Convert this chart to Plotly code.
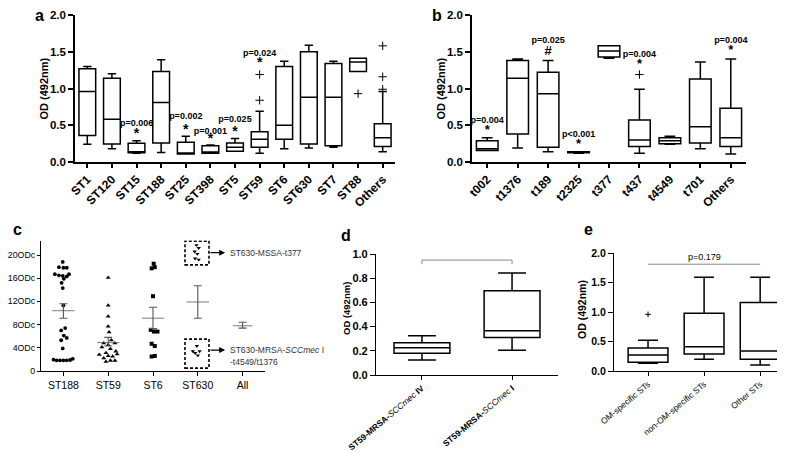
import plotly.graph_objects as go

FONT = "Liberation Sans"
W, H = 785, 451

# ---------------- Panel a : OD by ST ----------------
a_cats = ["ST1", "ST120", "ST15", "ST188", "ST25", "ST398", "ST5", "ST59", "ST6", "ST630", "ST7", "ST88", "Others"]
a_lo = [0.24, 0.18, 0.12, 0.13, 0.11, 0.12, 0.145, 0.12, 0.18, 0.19, 0.20, 1.23, 0.14]
a_q1 = [0.36, 0.245, 0.125, 0.26, 0.11, 0.12, 0.145, 0.20, 0.31, 0.245, 0.22, 1.23, 0.21]
a_med = [0.96, 0.58, 0.13, 0.81, 0.115, 0.135, 0.20, 0.31, 0.50, 0.88, 0.88, 1.36, 0.33]
a_q3 = [1.27, 1.14, 0.255, 1.23, 0.27, 0.22, 0.26, 0.41, 1.30, 1.50, 1.34, 1.41, 0.52]
a_hi = [1.30, 1.20, 0.29, 1.39, 0.35, 0.23, 0.32, 0.69, 1.37, 1.59, 1.37, 1.41, 0.96]
a_out_cats = ["ST59", "ST59", "ST88", "Others", "Others", "Others"]
a_out_y = [0.84, 1.19, 0.93, 1.58, 1.16, 0.99]
a_sig_cats = ["ST15", "ST25", "ST398", "ST5", "ST59"]
a_p_text = ["p=0.006", "p=0.002", "p=0.001", "p=0.025", "p=0.024"]
a_p_y = [0.52, 0.61, 0.41, 0.57, 1.47]
a_star_y = [0.38, 0.43, 0.30, 0.40, 1.34]

# ---------------- Panel b : OD by spa type ----------------
b_cats = ["t002", "t1376", "t189", "t2325", "t377", "t437", "t4549", "t701", "Others"]
b_lo = [0.155, 0.19, 0.14, 0.12, 1.41, 0.12, 0.24, 0.18, 0.11]
b_q1 = [0.155, 0.38, 0.20, 0.125, 1.43, 0.21, 0.25, 0.26, 0.21]
b_med = [0.18, 1.14, 0.93, 0.13, 1.51, 0.30, 0.29, 0.48, 0.33]
b_q3 = [0.29, 1.38, 1.22, 0.14, 1.58, 0.57, 0.33, 1.13, 0.73]
b_hi = [0.33, 1.40, 1.38, 0.14, 1.58, 0.99, 0.35, 1.36, 1.40]
b_out_cats = ["t437"]
b_out_y = [1.19]
b_sig_cats = ["t002", "t189", "t2325", "t437", "Others"]
b_p_text = ["p=0.004", "p=0.025", "p&lt;0.001", "p=0.004", "p=0.004"]
b_p_y = [0.56, 1.65, 0.37, 1.46, 1.65]
b_mark = ["*", "#", "*", "*", "*"]
b_mark_y = [0.42, 1.50, 0.24, 1.32, 1.51]

# ---------------- Panel c : dot plot ----------------
c_cats = ["ST188", "ST59", "ST6", "ST630", "All"]
c_ticks = [0, 4, 8, 12, 16, 20]
c_ticktext = ["0", "4ODc", "8ODc", "12ODc", "16ODc", "20ODc"]
c_mean = [10.4, 4.9, 9.1, 11.9, 7.8]
c_sem_hi = [11.6, 5.8, 11.0, 14.7, 8.4]
c_sem_lo = [9.1, 4.3, 7.3, 9.1, 7.4]
st188_y = [18.8, 17.9, 17.8, 17.8, 16.7, 16.5, 16.4, 16.3, 16.7, 15.9, 15.2, 14.3, 11.3,
           7.4, 7.0, 6.1, 5.7, 5.3, 3.9, 1.95, 1.84, 1.84, 1.84, 1.84, 1.9, 2.1]
st188_dx = [-0.015, -0.10, 0.0, 0.075, -0.19, -0.10, -0.015, 0.075, 0.125, 0.01, -0.04, -0.015, 0.0,
            0.04, -0.05, 0.01, 0.075, -0.05, -0.015, -0.22, -0.15, -0.075, 0.0, 0.075, 0.15, 0.21]
st59_y = [16.1, 11.3, 9.4, 7.7, 6.7, 5.3, 4.8, 4.5, 4.8, 4.1, 3.8, 3.4, 3.1, 2.8, 2.6, 2.5, 2.2, 1.8, 1.6, 1.8, 2.9]
st59_dx = [0.0, 0.0, 0.0, 0.0, 0.02, 0.07, -0.10, 0.0, 0.15, -0.14, 0.05, 0.17, -0.05, -0.20, 0.0, 0.10, -0.10, 0.05, -0.05, 0.15, 0.20]
st6_y = [18.5, 17.7, 17.9, 12.9, 7.1, 6.8, 6.8, 4.7, 4.3, 2.5, 2.6]
st6_dx = [0.015, -0.03, 0.04, 0.0, -0.05, 0.02, 0.10, -0.03, 0.04, -0.03, 0.04]
st630_y = [21.7, 21.2, 20.6, 20.2, 19.4, 19.2, 4.3, 3.4, 3.1, 3.4, 2.7]
st630_dx = [-0.03, 0.02, -0.07, -0.01, -0.06, 0.02, -0.02, -0.11, -0.06, 0.04, 0.0]

# ---------------- Panel d : ST59 SCCmec ----------------
d_cats = ["<b>ST59-MRSA-</b><i>SCCmec</i><b> IV</b>", "<b>ST59-MRSA-</b><i>SCCmec</i><b> I</b>"]
d_lo = [0.124, 0.204]
d_q1 = [0.18, 0.309]
d_med = [0.226, 0.366]
d_q3 = [0.267, 0.697]
d_hi = [0.325, 0.843]
d_p_text = "p=0.005"

# ---------------- Panel e : OM-specific ----------------
e_cats = ["OM-specific STs", "non-OM-specific STs", "Other STs"]
e_lo = [0.13, 0.20, 0.10]
e_q1 = [0.15, 0.29, 0.20]
e_med = [0.27, 0.41, 0.34]
e_q3 = [0.39, 0.98, 1.16]
e_hi = [0.52, 1.59, 1.59]
e_out_cats = ["OM-specific STs"]
e_out_y = [0.96]
e_p_text = "p=0.179"


def px(xp):
    return xp / W


def py(yp):
    return 1 - yp / H


fig = go.Figure()
BOX = dict(fillcolor="white", line=dict(color="black", width=1.5), whiskerwidth=0.5,
           boxpoints=False, hoverinfo="skip", showlegend=False)


def add_box(x, lo, q1, med, q3, hi, xa, ya, width):
    fig.add_trace(go.Box(x=x, lowerfence=lo, q1=q1, median=med, q3=q3, upperfence=hi,
                         xaxis=xa, yaxis=ya, width=width, **BOX))


def add_out(x, y, xa, ya, size=6):
    fig.add_trace(go.Scatter(x=x, y=y, mode="markers", xaxis=xa, yaxis=ya, hoverinfo="skip",
                             marker=dict(symbol="cross-thin", size=size, line=dict(color="black", width=1)),
                             showlegend=False))


def add_text(x, y, t, xa, ya, size, bold=True, color="black"):
    fig.add_trace(go.Scatter(x=x, y=y, text=t, mode="text", xaxis=xa, yaxis=ya, hoverinfo="skip",
                             cliponaxis=False, showlegend=False,
                             textfont=dict(family=FONT, size=size, color=color,
                                           weight="bold" if bold else "normal")))


# panel a
add_box(a_cats, a_lo, a_q1, a_med, a_q3, a_hi, "x", "y", 0.68)
add_out(a_out_cats, a_out_y, "x", "y")
add_text(a_sig_cats, a_p_y, a_p_text, "x", "y", 9)
add_text(a_sig_cats, a_star_y, ["*"] * len(a_sig_cats), "x", "y", 14)

# panel b
add_box(b_cats, b_lo, b_q1, b_med, b_q3, b_hi, "x2", "y2", 0.71)
add_out(b_out_cats, b_out_y, "x2", "y2")
add_text(b_sig_cats, b_p_y, b_p_text, "x2", "y2", 9)
add_text(b_sig_cats, b_mark_y, b_mark, "x2", "y2", 13)

# panel c
GREY = "#555555"
groups = [(0, st188_y, st188_dx, "circle", 3.8),
          (1, st59_y, st59_dx, "triangle-up", 4.4),
          (2, st6_y, st6_dx, "square", 4.0),
          (3, st630_y, st630_dx, "triangle-down", 3.8)]
for idx, ys, dxs, sym, sz in groups:
    fig.add_trace(go.Scatter(x=[idx + d for d in dxs], y=ys, mode="markers", xaxis="x3", yaxis="y3",
                             hoverinfo="skip", showlegend=False,
                             marker=dict(symbol=sym, size=sz, color="black", line=dict(width=0))))
fig.add_trace(go.Scatter(
    x=list(range(len(c_cats))), y=c_mean, mode="markers", xaxis="x3", yaxis="y3",
    hoverinfo="skip", showlegend=False, cliponaxis=False,
    marker=dict(symbol="line-ew", size=[16, 16, 16, 16, 14], line=dict(color=GREY, width=1.1)),
    error_y=dict(type="data", symmetric=False,
                 array=[h - m for h, m in zip(c_sem_hi, c_mean)],
                 arrayminus=[m - l for m, l in zip(c_mean, c_sem_lo)],
                 color=GREY, thickness=1.1, width=4)))

# panel d
add_box(d_cats, d_lo, d_q1, d_med, d_q3, d_hi, "x4", "y4", 0.62)

# panel e
add_box(e_cats, e_lo, e_q1, e_med, e_q3, e_hi, "x5", "y5", 0.71)
add_out(e_out_cats, e_out_y, "x5", "y5", size=4)

# ---------------- axes ----------------
def xax(domain, anchor, rng, size, bold=True, angle=-45, lw=1.5):
    return dict(domain=domain, anchor=anchor, range=rng, showline=True, linecolor="black", linewidth=lw,
                ticks="outside", ticklen=4, tickwidth=lw, tickcolor="black", showgrid=False, zeroline=False,
                automargin=False,
                tickangle=angle, tickfont=dict(family=FONT, size=size, color="black",
                                               weight="bold" if bold else "normal"))


def yax(domain, anchor, rng, tv, tt, size, bold=True, lw=1.5, ticklen=5):
    return dict(domain=domain, anchor=anchor, range=rng, showline=True, linecolor="black", linewidth=lw,
                ticks="outside", ticklen=ticklen, tickwidth=lw, tickcolor="black", showgrid=False,
                zeroline=False, automargin=False, tickvals=tv, ticktext=tt,
                tickfont=dict(family=FONT, size=size, color="black", weight="bold" if bold else "normal"))


od_t = [0, 0.5, 1.0, 1.5, 2.0]
od_tt = ["0.0", "0.5", "1.0", "1.5", "2.0"]

fig.update_layout(
    width=W, height=H, margin=dict(l=0, r=0, t=0, b=0, autoexpand=False), autosize=False,
    paper_bgcolor="white", plot_bgcolor="white", showlegend=False,
    xaxis=dict(xax([px(67), px(387)], "y", [-0.5, 12.5], 12), type="category"),
    yaxis=yax([py(154), py(7)], "x", [0, 2], od_t, od_tt, 11.5),
    xaxis2=dict(xax([px(464), px(738)], "y2", [-0.5, 8.5], 12), type="category"),
    yaxis2=yax([py(154), py(7)], "x2", [0, 2], od_t, od_tt, 11.5),
    xaxis3=dict(xax([px(33), px(257)], "y3", [-0.5, 4.5], 10.5, bold=False, angle=0, lw=1.2),
                type="linear", tickvals=list(range(len(c_cats))), ticktext=c_cats),
    yaxis3=yax([py(363), py(232.5)], "x3", [0, 22.5], c_ticks, c_ticktext, 8.8, bold=False, lw=1.2,
               ticklen=3),
    xaxis4=dict(xax([px(368), px(550)], "y4", [-0.51, 1.51], 8.5, bold=False, angle=-40, lw=1.2),
                type="category"),
    yaxis4=yax([py(367), py(246)], "x4", [0, 1], [0, 0.2, 0.4, 0.6, 0.8, 1.0],
               ["0.0", "0.2", "0.4", "0.6", "0.8", "1.0"], 11, lw=1.2),
    xaxis5=dict(xax([px(606), px(783)], "y5", [-0.607, 2.55], 8.5, bold=False, angle=-40, lw=1.2),
                type="category"),
    yaxis5=yax([py(363), py(245)], "x5", [0, 2], od_t, od_tt, 10.5, lw=1.2),
)

# ---------------- shapes / annotations ----------------
shapes = []
# panel c dashed boxes around ST630 subgroups
for y0, y1 in [(18.3, 22.4), (0.5, 5.5)]:
    shapes.append(dict(type="rect", xref="x3", yref="y3", x0=3 - 0.286, x1=3 + 0.25, y0=y0, y1=y1,
                       line=dict(color="black", width=1.6, dash="3px,2px"), fillcolor="rgba(0,0,0,0)"))
# panel d bracket
BR = "#888888"
shapes.append(dict(type="line", xref="x4", yref="y4", x0=0, x1=1, y0=0.95, y1=0.95, line=dict(color=BR, width=1)))
for xx in [0, 1]:
    shapes.append(dict(type="line", xref="x4", yref="y4", x0=xx, x1=xx, y0=0.95, y1=0.915,
                       line=dict(color=BR, width=1)))
# panel e line
shapes.append(dict(type="line", xref="x5", yref="y5", x0=0, x1=2, y0=1.81, y1=1.81, line=dict(color=BR, width=1)))

ann = []
# panel letters
for t, xx, yy in [("a", 31, 8), ("b", 429, 8), ("c", 9, 221), ("d", 338, 228), ("e", 580, 222)]:
    ann.append(dict(text=t, xref="paper", yref="paper", x=px(xx), y=py(yy), showarrow=False,
                    xanchor="center", yanchor="middle",
                    font=dict(family=FONT, size=16, color="black", weight="bold")))
# y titles
for xx, yc, sz in [(36, 80.5, 11), (433, 80.5, 11), (338, 301, 9.5), (574, 302, 10.5)]:
    ann.append(dict(text="OD (492nm)", xref="paper", yref="paper", x=px(xx), y=py(yc), showarrow=False,
                    textangle=-90, xanchor="center", yanchor="middle",
                    font=dict(family=FONT, size=sz, color="black", weight="bold")))
# panel c arrows and labels
for yv in [20.4, 3.6]:
    ann.append(dict(text="", xref="x3", yref="y3", axref="x3", ayref="y3", x=3.61, y=yv, ax=3.25, ay=yv,
                    showarrow=True, arrowhead=2, arrowsize=1, arrowwidth=1.2, arrowcolor="black"))
C_TXT = "#333333"
ann.append(dict(text="ST630-MSSA-t377", xref="x3", yref="y3", x=3.67, y=20.4, showarrow=False,
                xanchor="left", yanchor="middle", font=dict(family=FONT, size=8.5, color=C_TXT)))
ann.append(dict(text="ST630-MRSA-<i>SCCmec</i> I", xref="x3", yref="y3", x=3.67, y=3.6, showarrow=False,
                xanchor="left", yanchor="middle", font=dict(family=FONT, size=8.5, color=C_TXT)))
ann.append(dict(text="-t4549/t1376", xref="x3", yref="y3", x=3.67, y=1.55, showarrow=False,
                xanchor="left", yanchor="middle", font=dict(family=FONT, size=8.5, color=C_TXT)))
# p-values d / e
ann.append(dict(text=d_p_text, xref="x4", yref="y4", x=0.5, y=1.02, showarrow=False,
                xanchor="center", yanchor="middle", font=dict(family=FONT, size=9, color="black", weight="bold")))
ann.append(dict(text=e_p_text, xref="x5", yref="y5", x=1, y=1.93, showarrow=False,
                xanchor="center", yanchor="middle", font=dict(family=FONT, size=9, color="black")))

fig.update_layout(shapes=shapes, annotations=ann)
fig.write_html("out.html")
